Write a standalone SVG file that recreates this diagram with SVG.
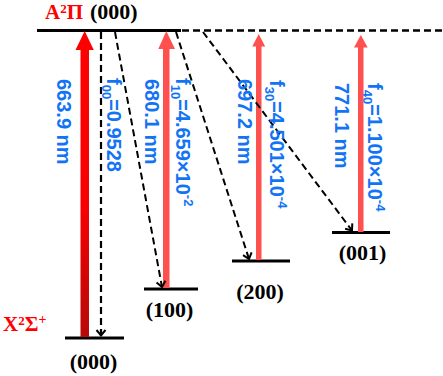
<svg xmlns="http://www.w3.org/2000/svg" width="443" height="376" viewBox="0 0 443 376">
<style>
.lvl{stroke:#000;stroke-width:2.8;fill:none}
.dash{stroke:#000;stroke-width:2.2;stroke-dasharray:7,4;fill:none}
.lab{font-family:"Liberation Serif","Times New Roman",serif;font-weight:bold;font-size:22px;fill:#000}
.st{font-family:"Liberation Serif","Times New Roman",serif;font-weight:bold;fill:#ff0000}
.bl{font-family:"Liberation Sans",Arial,sans-serif;font-weight:bold;font-size:20px;fill:#1274f5}
.sub{font-size:13px}
.salmon{fill:#ff5050}
</style>
<defs>
<linearGradient id="g0" x1="0" y1="0" x2="0" y2="1">
<stop offset="0" stop-color="#ff0000"/>
<stop offset="0.55" stop-color="#f80000"/>
<stop offset="1" stop-color="#b80808"/>
</linearGradient>
<marker id="chev" markerUnits="userSpaceOnUse" markerWidth="12" markerHeight="12" viewBox="-7 -6 9 12" refX="0" refY="0" orient="auto">
<path d="M-5.5,-4.5 L0,0 L-5.5,4.5" fill="none" stroke="#000" stroke-width="2"/>
</marker>
</defs>

<g id="upper-A000">
<line class="lvl" x1="37" y1="30.5" x2="181" y2="30.5"/>
<line class="dash" x1="182" y1="30.5" x2="443" y2="30.5" style="stroke-width:2.6"/>
<text class="st" x="45" y="18.5" font-size="21">A<tspan font-size="13" dy="-5.5">2</tspan><tspan dy="5.5">Π</tspan></text>
<text class="lab" x="90" y="18.5">(000)</text>
</g>

<g id="X000">
<line class="lvl" x1="65" y1="338" x2="124" y2="338"/>
<text class="st" x="3" y="331" font-size="21">X<tspan font-size="13" dy="-6">2</tspan><tspan dy="6">Σ</tspan><tspan font-size="14" dy="-7">+</tspan></text>
<text class="lab" x="93.5" y="369" text-anchor="middle">(000)</text>
</g>

<g id="X100">
<line class="lvl" x1="144" y1="289" x2="198" y2="289"/>
<text class="lab" x="169.5" y="316.5" text-anchor="middle">(100)</text>
</g>

<g id="X200">
<line class="lvl" x1="232" y1="261" x2="290" y2="261"/>
<text class="lab" x="260" y="298.5" text-anchor="middle">(200)</text>
</g>

<g id="X001">
<line class="lvl" x1="332" y1="232.5" x2="390" y2="232.5"/>
<text class="lab" x="362.5" y="259.5" text-anchor="middle">(001)</text>
</g>

<g id="connectors">
<rect x="80.5" y="48" width="8.5" height="289" fill="url(#g0)"/>
<polygon points="84.7,31 75.5,50 93.8,50" fill="#ff0000"/>
<rect class="salmon" x="163" y="47" width="6.5" height="241"/>
<polygon class="salmon" points="166.3,31 158.3,49 175,49"/>
<rect class="salmon" x="256" y="45" width="5.5" height="215"/>
<polygon class="salmon" points="258.7,34 252.3,46.5 265.2,46.5"/>
<rect class="salmon" x="358" y="46" width="5.5" height="186"/>
<polygon class="salmon" points="360.8,35 354,47.5 367.7,47.5"/>

<line class="dash" x1="101" y1="32" x2="101" y2="335.5" marker-end="url(#chev)"/>
<line class="dash" x1="115" y1="32" x2="162" y2="287" marker-end="url(#chev)" style="stroke-width:2"/>
<line class="dash" x1="176" y1="32" x2="249" y2="259" marker-end="url(#chev)" style="stroke-width:2"/>
<line class="dash" x1="203" y1="32" x2="352" y2="230.5" marker-end="url(#chev)" style="stroke-width:2"/>
</g>

<g id="labels">
<text class="bl" transform="translate(57,79) rotate(90)">663.9 nm</text>
<text class="bl" transform="translate(106.5,78) rotate(90)">f<tspan class="sub" dy="5">00</tspan><tspan dy="-5">=0.9528</tspan></text>
<text class="bl" transform="translate(145,79) rotate(90)">680.1 nm</text>
<text class="bl" transform="translate(176,78) rotate(90)">f<tspan class="sub" dy="5">10</tspan><tspan dy="-5">=4.659×10</tspan><tspan class="sub" dy="-8">-2</tspan></text>
<text class="bl" transform="translate(238,79) rotate(90)">697.2 nm</text>
<text class="bl" transform="translate(270,80) rotate(90)">f<tspan class="sub" dy="5">30</tspan><tspan dy="-5">=4.501×10</tspan><tspan class="sub" dy="-8">-4</tspan></text>
<text class="bl" transform="translate(335,83) rotate(90)">771.1 nm</text>
<text class="bl" transform="translate(368,83) rotate(90)">f<tspan class="sub" dy="5">40</tspan><tspan dy="-5">=1.100×10</tspan><tspan class="sub" dy="-8">-4</tspan></text>
</g>
</svg>
